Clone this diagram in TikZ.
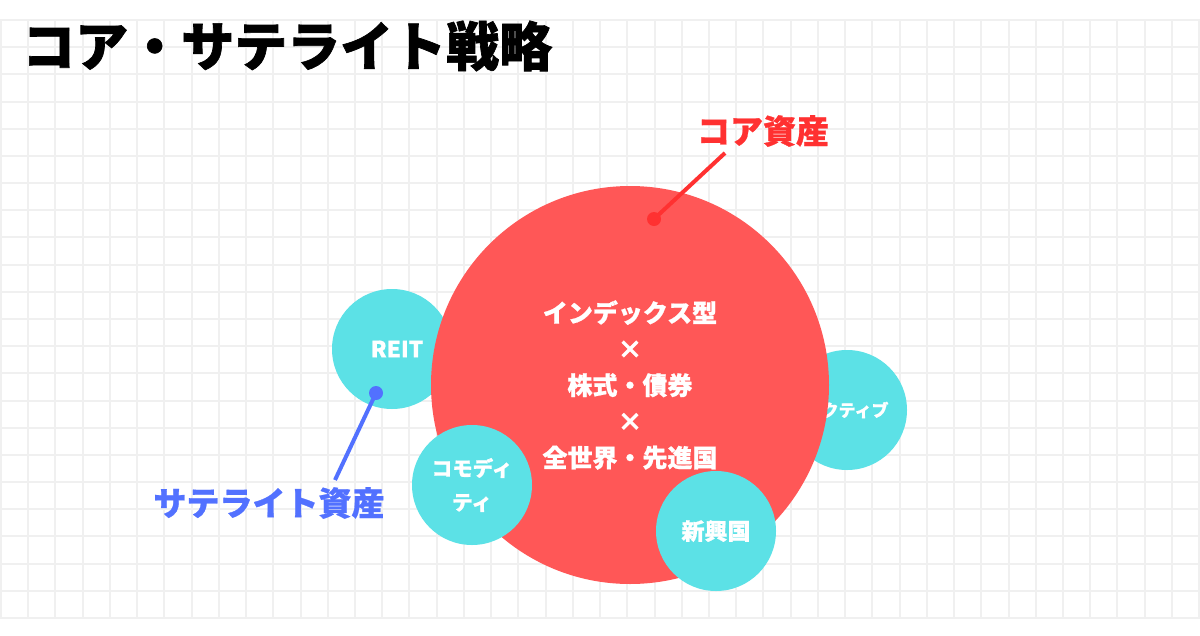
\documentclass[tikz,border=0pt]{standalone}
\usepackage{fontspec}
\newfontfamily\cjk{Noto Sans CJK JP}[FakeBold=0.8]
\newfontfamily\cjkheavy{Noto Sans CJK JP}[FakeBold=1.3]
\definecolor{corered}{HTML}{FF5757}
\definecolor{satcyan}{HTML}{5CE1E6}
\definecolor{labred}{HTML}{FF3131}
\definecolor{labblue}{HTML}{5271FF}
\definecolor{gridgray}{HTML}{F0F0F0}
\tikzset{
  gridline/.style={draw=gridgray, line width=2pt},
  satcircle/.style={circle, fill=satcyan, minimum size=120pt, inner sep=0pt, text=white, align=center},
  corecircle/.style={circle, fill=corered, minimum size=398pt, inner sep=0pt},
  dotnode/.style={circle, minimum size=14pt, inner sep=0pt},
  pointer/.style={line width=4pt},
}
\begin{document}
\begin{tikzpicture}[x=1pt,y=-1pt]
\useasboundingbox (0,0) rectangle (1200,635);
\fill[white] (0,0) rectangle (1200,635);
% grid
\foreach \k in {0,...,44} \draw[gridline] ({1+27.23*\k},20) -- ({1+27.23*\k},618);
\foreach \k in {0,...,22} \draw[gridline] (0,{20+27.18*\k}) -- (1200,{20+27.18*\k});
% title
\node[anchor=west, inner sep=0pt, font=\cjkheavy\bfseries\fontsize{53}{53}\selectfont] (title) at (22,46) {コア・サテライト戦略};
% satellites behind core
\node[satcircle] (reit) at (392,349) {};
\node[text=white, inner sep=0pt, font=\cjk\bfseries\fontsize{22.5}{24}\selectfont] (reittext) at (397,349) {REIT};
\node[satcircle, font=\cjk\bfseries\fontsize{17}{20}\selectfont] (active) at (847,410) {アクティブ};
% core
\node[corecircle] (core) at (630,385) {};
\node[align=center, text=white, inner sep=0pt, font=\cjk\bfseries\fontsize{25}{36.2}\selectfont] (coretext) at (630,385) {インデックス型\\×\\株式・債券\\×\\全世界・先進国};
% satellites in front of core
\node[satcircle, font=\cjk\bfseries\fontsize{20.5}{34}\selectfont] (commodity) at (472,485) {コモディ\\ティ};
\node[satcircle, font=\cjk\bfseries\fontsize{23}{24}\selectfont] (emerging) at (716,531) {新興国};
% core label
\node[text=labred, inner sep=0pt, font=\cjk\bfseries\fontsize{33}{33}\selectfont] (corelabel) at (763,131) {コア資産};
\node[dotnode, fill=labred] (coredot) at (654,219) {};
\coordinate (coreend) at (725,153);
\draw[pointer, draw=labred] (coredot.center) -- (coreend);
% satellite label
\node[text=labblue, inner sep=0pt, font=\cjk\bfseries\fontsize{33}{33}\selectfont] (satlabel) at (269,503) {サテライト資産};
\node[dotnode, fill=labblue] (satdot) at (376,393) {};
\coordinate (satend) at (335,480);
\draw[pointer, draw=labblue] (satdot.center) -- (satend);
\end{tikzpicture}
\end{document}
